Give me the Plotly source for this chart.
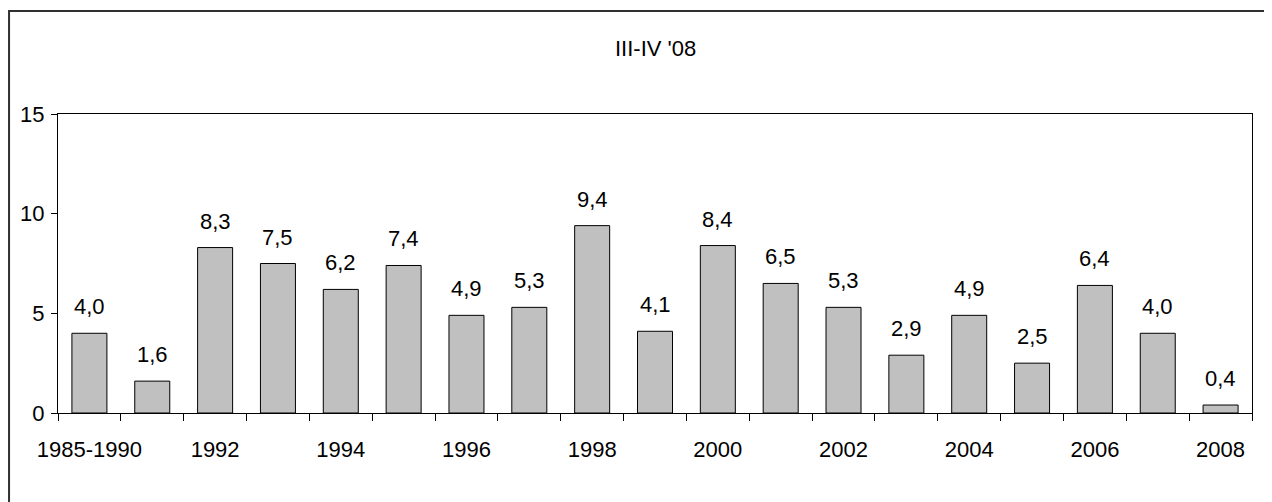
import plotly.graph_objects as go

categories = ['1985-1990', '1991', '1992', '1993', '1994', '1995', '1996', '1997', '1998', '1999',
              '2000', '2001', '2002', '2003', '2004', '2005', '2006', '2007', '2008']
values = [4.0, 1.6, 8.3, 7.5, 6.2, 7.4, 4.9, 5.3, 9.4, 4.1,
          8.4, 6.5, 5.3, 2.9, 4.9, 2.5, 6.4, 4.0, 0.4]
y_ticks = [0, 5, 10, 15]
title_text = "III-IV '08"

FONT = 'Arial, Liberation Sans, sans-serif'
FS = 22
xpos = list(range(len(categories)))

fig = go.Figure()
fig.add_trace(go.Bar(
    x=xpos, y=values,
    marker=dict(color='#C0C0C0', line=dict(color='#000000', width=1)),
    hoverinfo='skip',
))

# value labels above bars, decimal comma
for xi, v in zip(xpos, values):
    fig.add_annotation(x=xi, y=v, text=f'{v:.1f}'.replace('.', ','),
                       showarrow=False, yanchor='bottom', yshift=12,
                       font=dict(family=FONT, size=FS, color='#000000'))

fig.add_annotation(xref='paper', yref='paper', x=0.5, y=1.22, text=title_text,
                   showarrow=False, yanchor='middle',
                   font=dict(family=FONT, size=FS, color='#000000'))

# outer chart frame
fig.add_shape(type='rect', xref='paper', yref='paper',
              x0=-0.041, x1=1.03, y0=-0.35, y1=1.3445,
              line=dict(color='#303030', width=2), layer='below')

fig.update_layout(
    width=1272, height=502,
    margin=dict(l=50, r=28, t=106, b=97),
    paper_bgcolor='white', plot_bgcolor='white',
    showlegend=False, bargap=0.443,
    font=dict(family=FONT, size=FS, color='#000000'),
    xaxis=dict(
        range=[-0.5, len(categories) - 0.5],
        tickvals=xpos[::2], ticktext=categories[::2],
        ticks='outside', ticklen=7, tickcolor='rgba(0,0,0,0)',
        ticklabelstandoff=10,
        minor=dict(tickvals=[i - 0.5 for i in range(len(categories) + 1)],
                   ticks='outside', ticklen=7, tickcolor='#000000', tickwidth=1),
        showline=True, linecolor='#000000', linewidth=1, mirror=True,
        showgrid=False, zeroline=False,
        tickfont=dict(family=FONT, size=FS, color='#000000'),
    ),
    yaxis=dict(
        range=[0, 15], tickvals=y_ticks,
        ticks='outside', ticklen=6, tickcolor='#000000',
        ticklabelstandoff=2,
        showline=True, linecolor='#000000', linewidth=1, mirror=True,
        showgrid=False, zeroline=False,
        tickfont=dict(family=FONT, size=FS, color='#000000'),
    ),
)

fig.write_html('out.html')
